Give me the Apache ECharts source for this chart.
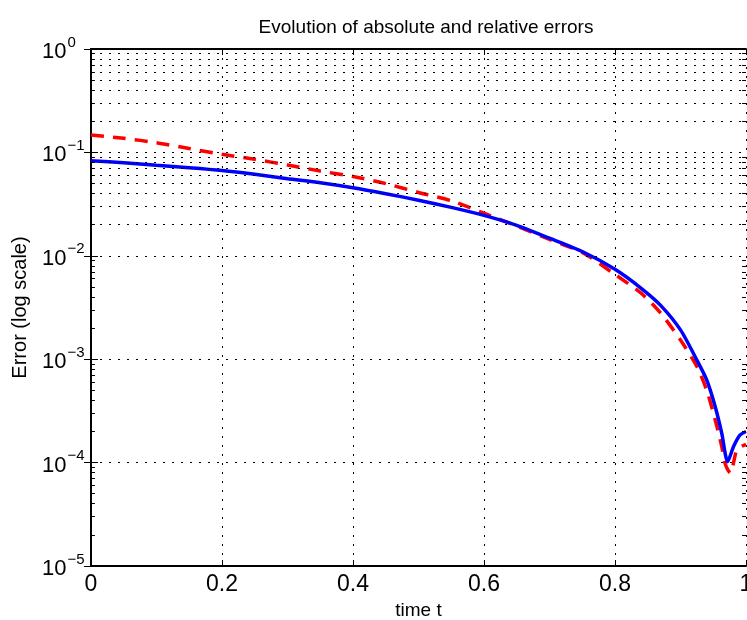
<!DOCTYPE html>
<html>
<head>
<meta charset="utf-8">
<script src="https://cdn.jsdelivr.net/npm/echarts@6/dist/echarts.min.js"></script>
<style>html,body{margin:0;padding:0;background:#fff}#c{width:747px;height:620px}</style>
</head>
<body>
<div id="c"></div>
<script>
// ---- data ----
const tAbs = [0, 0.05, 0.1, 0.15, 0.2, 0.25, 0.3, 0.35, 0.4, 0.45, 0.5, 0.55, 0.6, 0.65, 0.7, 0.75, 0.8, 0.84, 0.87, 0.9, 0.925, 0.94, 0.953, 0.963, 0.972, 0.981, 0.991, 1.0];
const absErr = [0.083, 0.0795, 0.075, 0.0711, 0.0668, 0.0614, 0.0557, 0.0509, 0.0456, 0.0399, 0.0345, 0.0294, 0.0246, 0.0197, 0.0148, 0.011, 0.0074, 0.00485, 0.0033, 0.00192, 0.00098, 0.00063, 0.000347, 0.000192, 0.000102, 0.000143, 0.000185, 0.0002];
const tRel = [0, 0.05, 0.1, 0.15, 0.2, 0.25, 0.3, 0.35, 0.4, 0.45, 0.5, 0.55, 0.6, 0.65, 0.7, 0.75, 0.8, 0.84, 0.87, 0.9, 0.925, 0.94, 0.953, 0.963, 0.968, 0.976, 0.985, 0.99, 1.0];
const relErr = [0.147, 0.137, 0.124, 0.109, 0.0958, 0.0857, 0.0755, 0.066, 0.0585, 0.0499, 0.041, 0.0341, 0.0258, 0.0194, 0.0144, 0.0108, 0.0066, 0.00434, 0.00278, 0.00153, 0.00085, 0.0005, 0.000258, 0.000143, 0.0000985, 0.0000794, 0.000128, 0.00014, 0.00015];
const xTicks = [0, 0.2, 0.4, 0.6, 0.8, 1];
const decades = [1e-5, 1e-4, 1e-3, 1e-2, 1e-1, 1];
const minorMultipliers = [2, 3, 4, 5, 6, 7, 8, 9];

const titleText = 'Evolution of absolute and relative errors';
const xName = 'time t';
const yName = 'Error (log scale)';

const FONT = 'Liberation Sans, Arial, Helvetica, sans-serif';

// minor grid values (2..9 x decade)
const minorVals = [];
for (let i = 0; i < decades.length - 1; i++) {
  for (const m of minorMultipliers) minorVals.push(+(decades[i] * m).toPrecision(3));
}
const gridLines = [];
minorVals.forEach(v => gridLines.push({ yAxis: v }));
const tickSegs = [];
minorVals.forEach(v => {
  tickSegs.push([{ coord: [0, v] }, { coord: [0.006, v] }]);
  tickSegs.push([{ coord: [0.994, v] }, { coord: [1, v] }]);
});

const dotted = { type: [2, 7], color: '#000', width: 1 };

const chart = echarts.init(document.getElementById('c'));
chart.setOption({
  animation: false,
  backgroundColor: '#fff',
  title: {
    text: titleText, left: 421, top: 13, textAlign: 'center',
    textStyle: { fontFamily: FONT, fontSize: 19, fontWeight: 'normal', color: '#000' }
  },
  grid: { left: 91, right: 1, top: 49, bottom: 54, containLabel: false, outerBoundsMode: 'none' },
  xAxis: [{
    type: 'value', min: 0, max: 1, interval: 0.2, position: 'bottom',
    name: xName, nameLocation: 'middle', nameGap: 34,
    nameTextStyle: { fontFamily: FONT, fontSize: 19, color: '#000' },
    axisLine: { lineStyle: { color: '#000', width: 2 } },
    axisTick: { inside: true, length: 6, lineStyle: { color: '#000', width: 1 } },
    axisLabel: { fontFamily: FONT, fontSize: 23, color: '#000', margin: 7,
      formatter: v => (v === 0 ? '0' : v === 1 ? '1' : String(+v.toFixed(1))) },
    splitLine: { show: true, lineStyle: dotted }
  }, {
    type: 'value', min: 0, max: 1, interval: 0.2, position: 'top',
    axisLine: { lineStyle: { color: '#000', width: 2 } },
    axisTick: { inside: true, length: 6, lineStyle: { color: '#000', width: 1 } },
    axisLabel: { show: false }, splitLine: { show: false }
  }],
  yAxis: [{
    type: 'log', logBase: 10, min: 1e-5, max: 1, position: 'left',
    name: yName, nameLocation: 'middle', nameGap: 61, nameRotate: 90,
    nameTextStyle: { fontFamily: FONT, fontSize: 20, color: '#000' },
    axisLine: { lineStyle: { color: '#000', width: 2 } },
    axisTick: { inside: true, length: 7, lineStyle: { color: '#000', width: 1 } },
    axisLabel: {
      margin: 49, align: 'left',
      formatter: v => {
        const e = Math.round(Math.log10(v));
        return '{b|10}{s|' + (e === 0 ? '0' : '\u2212' + (-e)) + '}';
      },
      rich: {
        b: { fontFamily: FONT, fontSize: 22, color: '#000', lineHeight: 28, verticalAlign: 'bottom' },
        s: { fontFamily: FONT, fontSize: 15, color: '#000', lineHeight: 15, verticalAlign: 'top', padding: [0, 0, 0, 1] }
      }
    },
    splitLine: { show: true, lineStyle: dotted }
  }, {
    type: 'log', logBase: 10, min: 1e-5, max: 1, position: 'right',
    axisLine: { lineStyle: { color: '#000', width: 2 } },
    axisTick: { inside: true, length: 7, lineStyle: { color: '#000', width: 1 } },
    axisLabel: { show: false }, splitLine: { show: false }
  }],
  series: [{
    name: 'grid', type: 'line', data: [], silent: true, z: 1,
    markLine: {
      silent: true, symbol: ['none', 'none'], label: { show: false },
      lineStyle: dotted, emphasis: { disabled: true },
      data: gridLines
    }
  }, {
    name: 'ticks', type: 'line', data: [], silent: true, z: 1,
    markLine: {
      silent: true, symbol: ['none', 'none'], label: { show: false },
      lineStyle: { type: 'solid', color: '#000', width: 1 }, emphasis: { disabled: true },
      data: tickSegs
    }
  }, {
    name: 'relative', type: 'line', showSymbol: false, z: 3,
    smooth: 0.25,
    data: tRel.map((t, i) => [t, relErr[i]]),
    lineStyle: { color: '#ff0000', width: 3.5, type: [13, 9] }
  }, {
    name: 'absolute', type: 'line', showSymbol: false, z: 4,
    smooth: 0.25,
    data: tAbs.map((t, i) => [t, absErr[i]]),
    lineStyle: { color: '#0000ff', width: 3.5 }
  }]
});
</script>
</body>
</html>
